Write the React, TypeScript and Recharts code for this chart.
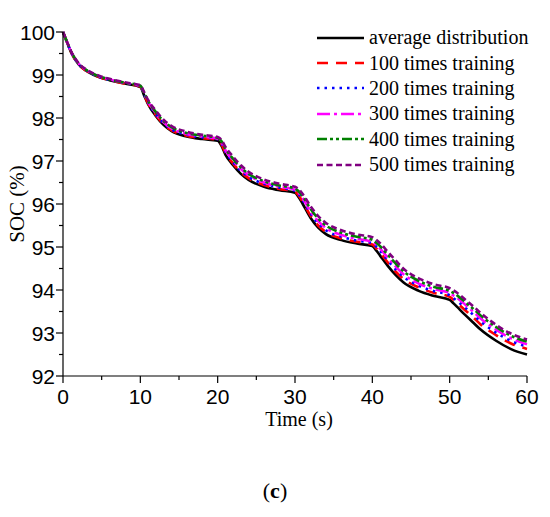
import { Legend, Line, LineChart, XAxis, YAxis } from "recharts";

// time axis (s), shared by every series
const time = [
  0, 0.5, 1, 2, 3, 4, 6, 8, 10,
  10.5, 11, 12, 13, 14, 16, 18, 20,
  20.5, 21, 22, 23, 24, 26, 28, 30,
  30.5, 31, 32, 33, 34, 36, 38, 40,
  40.5, 41, 42, 43, 44, 46, 48, 50,
  50.5, 51, 52, 53, 54, 56, 58, 60,
];

const averageDistribution = [
  100, 99.77, 99.55, 99.25, 99.1, 99.0, 98.88, 98.8, 98.72,
  98.52, 98.32, 98.05, 97.84, 97.7, 97.57, 97.51, 97.47,
  97.35, 97.15, 96.9, 96.7, 96.56, 96.4, 96.32, 96.26,
  96.15, 96.0, 95.68, 95.45, 95.3, 95.16, 95.08, 95.02,
  94.92, 94.8, 94.56, 94.35, 94.18, 93.98, 93.86, 93.77,
  93.69, 93.6, 93.42, 93.25, 93.08, 92.82, 92.62, 92.5,
];

const training100 = [
  100, 99.77, 99.55, 99.25, 99.1, 99.0, 98.88, 98.8, 98.73,
  98.54, 98.34, 98.07, 97.86, 97.72, 97.59, 97.53, 97.49,
  97.38, 97.19, 96.94, 96.74, 96.6, 96.44, 96.35, 96.29,
  96.19, 96.05, 95.73, 95.5, 95.35, 95.2, 95.12, 95.06,
  94.97, 94.87, 94.64, 94.43, 94.26, 94.06, 93.93, 93.84,
  93.77, 93.69, 93.53, 93.37, 93.2, 92.95, 92.75, 92.63,
];

const training200 = [
  100, 99.77, 99.55, 99.26, 99.11, 99.01, 98.89, 98.81, 98.74,
  98.55, 98.36, 98.09, 97.88, 97.74, 97.61, 97.55, 97.51,
  97.41, 97.22, 96.97, 96.77, 96.63, 96.47, 96.38, 96.31,
  96.22, 96.09, 95.78, 95.55, 95.39, 95.24, 95.15, 95.09,
  95.01, 94.91, 94.69, 94.48, 94.31, 94.1, 93.97, 93.88,
  93.81, 93.74, 93.59, 93.43, 93.27, 93.01, 92.81, 92.68,
];

const training300 = [
  100, 99.78, 99.56, 99.27, 99.12, 99.02, 98.9, 98.82, 98.75,
  98.57, 98.38, 98.11, 97.9, 97.76, 97.63, 97.57, 97.52,
  97.43, 97.25, 97.01, 96.81, 96.67, 96.5, 96.4, 96.33,
  96.25, 96.13, 95.83, 95.6, 95.44, 95.28, 95.19, 95.12,
  95.05, 94.96, 94.75, 94.55, 94.37, 94.15, 94.02, 93.93,
  93.87, 93.81, 93.66, 93.5, 93.34, 93.08, 92.87, 92.74,
];

const training400 = [
  100, 99.78, 99.56, 99.27, 99.12, 99.02, 98.9, 98.82, 98.75,
  98.58, 98.4, 98.14, 97.93, 97.79, 97.65, 97.59, 97.54,
  97.46, 97.29, 97.05, 96.85, 96.7, 96.53, 96.43, 96.36,
  96.29, 96.18, 95.89, 95.66, 95.5, 95.33, 95.24, 95.17,
  95.1, 95.02, 94.82, 94.62, 94.44, 94.21, 94.07, 93.98,
  93.93, 93.87, 93.72, 93.57, 93.41, 93.14, 92.93, 92.8,
];

const training500 = [
  100, 99.78, 99.57, 99.28, 99.13, 99.03, 98.91, 98.83, 98.76,
  98.6, 98.42, 98.17, 97.96, 97.82, 97.68, 97.61, 97.56,
  97.49, 97.33, 97.1, 96.9, 96.75, 96.57, 96.47, 96.4,
  96.34, 96.23, 95.95, 95.72, 95.56, 95.39, 95.29, 95.23,
  95.17, 95.09, 94.89, 94.69, 94.5, 94.27, 94.13, 94.04,
  93.99, 93.93, 93.78, 93.63, 93.47, 93.19, 92.98, 92.85,
];

const xTicks = [0, 5, 10, 15, 20, 25, 30, 35, 40, 45, 50, 55, 60];
const yTicks = [
  92, 92.5, 93, 93.5, 94, 94.5, 95, 95.5, 96, 96.5, 97, 97.5, 98, 98.5, 99,
  99.5, 100,
];

const series = [
  { key: "avg", name: "average distribution", color: "#000000", dash: undefined, values: averageDistribution },
  { key: "t100", name: "100 times training", color: "#ff0000", dash: "11 8", values: training100 },
  { key: "t200", name: "200 times training", color: "#0000ff", dash: "2.5 5", values: training200 },
  { key: "t300", name: "300 times training", color: "#ff00ff", dash: "13 4 3 4", values: training300 },
  { key: "t400", name: "400 times training", color: "#008000", dash: "10 3 3 3 3 3", values: training400 },
  { key: "t500", name: "500 times training", color: "#800080", dash: "6 3.5", values: training500 },
];

const data = time.map((t, i) => {
  const row: Record<string, number> = { t };
  series.forEach((s) => {
    row[s.key] = s.values[i];
  });
  return row;
});

const sans = '"Liberation Sans", Arial, sans-serif';
const serif = '"Liberation Serif", "Times New Roman", serif';

function YTick({ x, y, payload }: any) {
  const major = Number.isInteger(payload.value);
  return (
    <g>
      <line x1={x - (major ? 7 : 4)} x2={x} y1={y} y2={y} stroke="#000" strokeWidth={1.2} />
      {major && (
        <text x={x - 8} y={y + 7.5} textAnchor="end" fontFamily={sans} fontSize={21} fill="#000">
          {payload.value}
        </text>
      )}
    </g>
  );
}

function XTick({ x, y, payload }: any) {
  const major = payload.value % 10 === 0;
  return (
    <g>
      <line x1={x} x2={x} y1={y} y2={y + (major ? 7 : 4)} stroke="#000" strokeWidth={1.2} />
      {major && (
        <text x={x} y={y + 28} textAnchor="middle" fontFamily={sans} fontSize={21} fill="#000">
          {payload.value}
        </text>
      )}
    </g>
  );
}

function LegendBox() {
  return (
    <div style={{ fontFamily: serif, fontSize: 20, color: "#000" }}>
      {series.map((s) => (
        <div key={s.key} style={{ display: "flex", alignItems: "center", height: 25.4 }}>
          <svg width={50} height={10} style={{ marginRight: 3 }}>
            <line x1={1} x2={48} y1={5} y2={5} stroke={s.color} strokeWidth={2.6} strokeDasharray={s.dash} />
          </svg>
          <span style={{ whiteSpace: "nowrap" }}>{s.name}</span>
        </div>
      ))}
    </div>
  );
}

export default function App() {
  return (
    <div style={{ position: "relative", width: 550, height: 517, margin: -8, background: "#fff" }}>
      <LineChart width={550} height={517} data={data} margin={{ top: 32, right: 23, bottom: 111, left: 0 }}>
        <XAxis
          dataKey="t"
          type="number"
          domain={[0, 60]}
          ticks={xTicks}
          interval={0}
          height={30}
          stroke="#000"
          strokeWidth={1.2}
          tickLine={false}
          tickSize={0}
          tickMargin={0}
          tick={<XTick />}
          label={{
            content: ({ viewBox }: any) => (
              <text
                x={viewBox.x + viewBox.width / 2 + 4}
                y={viewBox.y + 50}
                textAnchor="middle"
                fontFamily={serif}
                fontSize={20}
                fill="#000"
              >
                Time (s)
              </text>
            ),
          }}
        />
        <YAxis
          type="number"
          domain={[92, 100]}
          ticks={yTicks}
          interval={0}
          width={63}
          stroke="#000"
          strokeWidth={1.2}
          tickLine={false}
          tickSize={0}
          tickMargin={0}
          tick={<YTick />}
          label={{
            content: ({ viewBox }: any) => {
              const cx = viewBox.x + 17;
              const cy = viewBox.y + viewBox.height / 2;
              return (
                <text
                  x={cx}
                  y={cy}
                  transform={`rotate(-90 ${cx} ${cy})`}
                  textAnchor="middle"
                  dominantBaseline="central"
                  fontFamily={serif}
                  fontSize={21}
                  fill="#000"
                >
                  SOC (%)
                </text>
              );
            },
          }}
        />
        <Legend
          layout="horizontal"
          verticalAlign="middle"
          align="center"
          wrapperStyle={{ top: 25, left: 316, width: "auto", height: "auto" }}
          content={() => <LegendBox />}
        />
        {series.map((s) => (
          <Line
            key={s.key}
            dataKey={s.key}
            name={s.name}
            type="monotone"
            stroke={s.color}
            strokeWidth={2.6}
            strokeDasharray={s.dash}
            dot={false}
            activeDot={false}
            isAnimationActive={false}
          />
        ))}
      </LineChart>
      <div
        style={{
          position: "absolute",
          left: 0,
          width: 550,
          top: 478,
          textAlign: "center",
          fontFamily: serif,
          fontSize: 22,
          color: "#000",
        }}
      >
        (<b>c</b>)
      </div>
    </div>
  );
}
